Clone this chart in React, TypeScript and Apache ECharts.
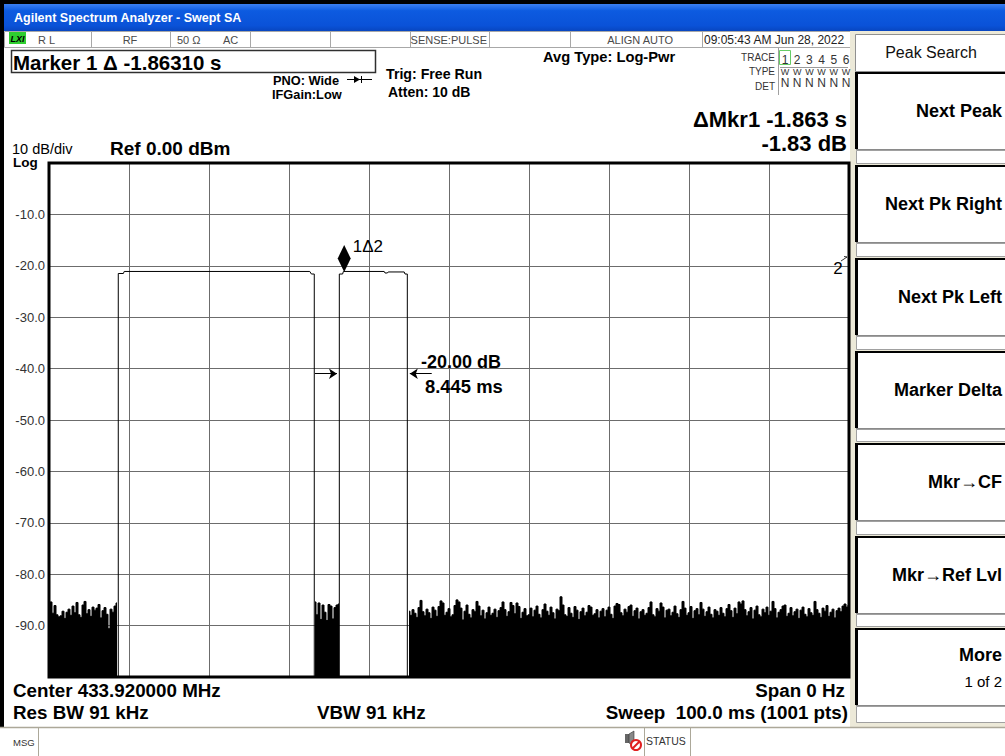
import React, { useEffect, useRef } from "react";
import * as echarts from "echarts";

// ---------- DATA ----------
const sweepMs = 100; // time axis span (ms)
const refLevel = 0; // dBm (top of screen)
const bottomLevel = -100; // dBm (bottom of screen)
const divDb = 10;

const noiseStep = 0.25; // ms between noise samples
const noise1Start = 0;
const noise1 = [
  -86.0, -85.4, -87.6, -86.1, -87.9, -88.3, -88.1, -87.2, -88.6, -87.4,
  -86.8, -88.0, -86.2, -87.5, -85.5, -87.9, -88.4, -86.0, -85.3, -87.7,
  -86.9, -88.2, -86.4, -87.0, -86.6, -85.9, -88.5, -87.1, -86.5, -87.8,
  -90.6, -86.8, -87.4, -86.2, -85.6,
];
const noise2Start = 33.25;
const noise2 = [
  -85.4, -87.9, -85.6, -88.8, -86.0, -87.4, -89.0, -85.9, -86.2, -88.7,
  -86.5, -86.0, -85.8,
];
const noise3Start = 45.0;
const noise3 = [
  -87.2, -88.0, -86.9, -87.6, -88.4, -86.5, -85.1, -87.3, -88.1, -86.8,
  -87.5, -88.6, -86.4, -87.0, -88.2, -86.3, -85.2, -85.6, -88.0, -87.4,
  -86.7, -88.3, -87.9, -86.1, -85.0, -85.4, -86.6, -88.9, -87.2, -86.0,
  -87.8, -88.5, -86.9, -87.3, -85.3, -86.2, -88.1, -87.0, -88.7, -87.5,
  -86.4, -88.0, -87.6, -86.8, -88.4, -87.1, -86.5, -85.4, -86.9, -88.2,
  -87.3, -85.5, -86.1, -87.7, -85.6, -86.3, -88.6, -87.4, -86.7, -88.1,
  -87.9, -86.6, -88.3, -87.0, -86.2, -87.8, -88.5, -86.9, -85.8, -87.2,
  -88.0, -86.4, -87.5, -88.7, -86.8, -87.1, -84.4, -86.0, -87.9, -88.2,
  -86.5, -87.6, -88.4, -86.3, -87.0, -88.8, -87.3, -86.6, -88.1, -87.4,
  -86.1, -86.4, -88.0, -87.7, -86.9, -88.5, -87.2, -86.7, -88.3, -87.0,
  -86.4, -87.8, -88.6, -86.2, -85.7, -85.9, -87.5, -88.1, -86.8, -87.4,
  -86.3, -86.0, -88.2, -87.1, -86.6, -88.7, -87.3, -86.9, -88.0, -87.6,
  -86.5, -85.4, -87.9, -88.3, -86.7, -87.2, -85.6, -86.4, -88.5, -87.0,
  -86.8, -88.1, -87.4, -86.2, -87.7, -88.4, -86.9, -85.3, -86.6, -88.0,
  -87.5, -86.3, -88.6, -87.1, -86.7, -87.9, -85.5, -86.8, -88.2, -87.3,
  -86.4, -87.8, -88.5, -86.9, -87.2, -88.0, -86.5, -87.6, -88.3, -86.7,
  -85.9, -87.1, -88.4, -86.6, -87.7, -85.4, -85.8, -85.2, -86.9, -88.1,
  -87.3, -86.5, -88.7, -87.0, -86.2, -87.9, -88.3, -86.8, -87.5, -86.4,
  -88.0, -87.2, -85.3, -86.7, -88.5, -87.4, -86.9, -86.2, -86.0, -88.2,
  -87.6, -86.5, -88.1, -87.3, -86.8, -88.6, -87.0, -86.4, -87.8, -88.3,
  -86.7, -87.5, -88.0, -85.3, -86.9, -87.6, -88.4, -86.6, -87.2, -86.1,
  -88.2, -87.4, -86.8, -88.5, -87.1, -86.6, -87.3, -86.2, -85.8, -86.4,
  -86.0,
];
// pulse outlines: [time ms, level dBm]
const pulse1 = [
  [8.66, -100], [8.66, -21.5], [9.3, -21.5], [9.4, -21.1], [32.6, -21.1],
  [32.8, -21.6], [33.16, -21.6], [33.16, -100],
];
const pulse2 = [
  [36.29, -100], [36.29, -21.6], [36.7, -21.6], [36.8, -21.1], [41.9, -21.1],
  [42.0, -21.4], [42.3, -21.4], [42.4, -21.2], [44.4, -21.2], [44.5, -21.6],
  [44.79, -21.6], [44.79, -100],
];
const marker1 = [36.9, -21.1];
const markerLabel = "1\u03942";
const bwLevel = -41.0;
const bwLeftArrow = [33.25, 36.0];
const bwRightArrow = [47.84, 45.1];
const bwText = ["-20.00 dB", "8.445 ms"];

const traceNums = ["1", "2", "3", "4", "5", "6"];
const traceTypes = ["W", "W", "W", "W", "W", "W"];
const traceDets = ["N", "N", "N", "N", "N", "N"];

const softkeys = ["Next Peak", "Next Pk Right", "Next Pk Left", "Marker Delta", "Mkr\u2192CF", "Mkr\u2192Ref Lvl"];

// ---------- LAYOUT ----------
const FONT = "'Liberation Sans', Arial, sans-serif";
const GL = 49, GT = 163, GW = 800, GH = 514;

function toSeries(start: number, arr: number[]) {
  return arr.map((v, i) => [start + i * noiseStep, v]);
}

function txt(x: number, y: number, text: string, size: number, opts: any = {}) {
  return {
    type: "text",
    z: 50,
    silent: true,
    style: {
      x, y, text,
      font: `${opts.italic ? "italic " : ""}${opts.bold ? "bold " : ""}${size}px ${opts.family || FONT}`,
      fill: opts.color || "#000",
      textAlign: opts.align || "left",
      textVerticalAlign: "middle",
    },
  };
}
function rect(x: number, y: number, w: number, h: number, fill: any, stroke?: string, lw = 1, z = 10) {
  return {
    type: "rect", z, silent: true,
    shape: { x, y, width: w, height: h },
    style: { fill, stroke: stroke || null, lineWidth: stroke ? lw : 0 },
  };
}
function ln(x1: number, y1: number, x2: number, y2: number, stroke: string, lw = 1, z = 20) {
  return { type: "line", z, silent: true, shape: { x1, y1, x2, y2 }, style: { stroke, lineWidth: lw } };
}

function buildGraphics() {
  const g: any[] = [];
  // frame
  g.push(rect(0, 0, 1005, 5, "#000", undefined, 0, 5));
  g.push(rect(4, 4, 1001, 27, {
    type: "linear", x: 0, y: 0, x2: 0, y2: 1,
    colorStops: [
      { offset: 0, color: "#3b7ff0" }, { offset: 0.25, color: "#0d5be0" },
      { offset: 0.8, color: "#0a52d8" }, { offset: 1, color: "#0846c0" },
    ],
  }, undefined, 0, 5));
  g.push(rect(0, 0, 4, 728, "#000", undefined, 0, 6));
  g.push(txt(14, 18, "Agilent Spectrum Analyzer - Swept SA", 12.5, { bold: true, color: "#fff" }));

  // status row
  g.push(rect(4.5, 31.5, 846, 16, "#fff", "#a8a8a8", 1, 6));
  [91, 170, 250, 330, 410, 489, 570, 702].forEach((x) => g.push(ln(x + 0.5, 31, x + 0.5, 48, "#a8a8a8", 1, 7)));
  g.push(rect(9, 32, 17, 12, "#2fcf2f", undefined, 0, 8));
  g.push(txt(17.5, 38.5, "LXI", 9, { bold: true, italic: true, align: "center" }));
  const sc = "#4a4a4a";
  g.push(txt(38, 40, "R L", 11, { color: sc }));
  g.push(txt(130, 40, "RF", 11, { color: sc, align: "center" }));
  g.push(txt(177, 40, "50 \u03A9", 11, { color: sc }));
  g.push(txt(223, 40, "AC", 11, { color: sc }));
  g.push(txt(487, 40, "SENSE:PULSE", 11, { color: sc, align: "right" }));
  g.push(txt(673, 40, "ALIGN AUTO", 11, { color: sc, align: "right" }));
  g.push(txt(704, 40, "09:05:43 AM Jun 28, 2022", 12, { color: "#222" }));

  // marker box
  g.push(rect(11.5, 50.5, 364, 22, "#fff", "#303030", 1.5, 8));
  g.push(txt(13, 62, "Marker 1 \u0394 -1.86310 s", 20.5, { bold: true }));

  g.push(txt(273, 80, "PNO: Wide", 12.8, { bold: true }));
  g.push(txt(272, 94, "IFGain:Low", 12.8, { bold: true }));
  g.push(ln(347, 79.5, 372, 79.5, "#000", 1));
  g.push({ type: "polygon", z: 21, silent: true, shape: { points: [[354, 76], [354, 83], [360, 79.5]] }, style: { fill: "#000" } });
  g.push(ln(361.5, 76, 361.5, 83, "#000", 1));
  g.push(txt(386, 74, "Trig: Free Run", 14.2, { bold: true }));
  g.push(txt(388, 92, "Atten: 10 dB", 14, { bold: true }));
  g.push(txt(543, 57, "Avg Type: Log-Pwr", 14.7, { bold: true }));

  // trace block
  g.push(ln(778.5, 48, 778.5, 95, "#a0a0a0", 1));
  g.push(rect(779.5, 50.5, 11, 14, "#fff", "#66cc66", 1, 19));
  g.push(txt(775, 57, "TRACE", 10, { color: "#333", align: "right" }));
  g.push(txt(775, 71, "TYPE", 10, { color: "#333", align: "right" }));
  g.push(txt(775, 86, "DET", 10, { color: "#333", align: "right" }));
  traceNums.forEach((s, k) => g.push(txt(785 + 12.2 * k, 59.5, s, 12, { color: "#333", align: "center" })));
  traceTypes.forEach((s, k) => g.push(txt(785 + 12.2 * k, 71.5, s, 9, { color: "#333", align: "center" })));
  g.push(ln(780, 67.5, 848, 67.5, "#555", 0.6));
  traceDets.forEach((s, k) => g.push(txt(785 + 12.2 * k, 83, s, 12, { color: "#333", align: "center" })));

  g.push(txt(847, 119, "\u0394Mkr1 -1.863 s", 22, { bold: true, align: "right" }));
  g.push(txt(847, 143.5, "-1.83 dB", 22, { bold: true, align: "right" }));

  g.push(txt(12, 148.5, "10 dB/div", 14.5));
  g.push(txt(13, 162.5, "Log", 13.5, { bold: true }));
  g.push(txt(110, 148, "Ref 0.00 dBm", 19, { bold: true }));

  // plot border
  g.push({ type: "rect", z: 60, silent: true, shape: { x: GL, y: GT, width: GW, height: GH }, style: { fill: null, stroke: "#000", lineWidth: 3 } });

  // bw annotations
  g.push(txt(421, 362, bwText[0], 18, { bold: true }));
  g.push(txt(425, 386, bwText[1], 18.4, { bold: true }));
  // off-screen marker 2 indicator
  g.push(txt(838, 268, "2", 17, { align: "center" }));
  g.push(ln(841, 261, 847, 257, "#000", 0.8));
  g.push(ln(844, 256.5, 847, 257, "#000", 0.8));

  // bottom annotations
  g.push(txt(13, 690, "Center 433.920000 MHz", 18.8, { bold: true }));
  g.push(txt(13, 712, "Res BW 91 kHz", 18.8, { bold: true }));
  g.push(txt(317, 712, "VBW 91 kHz", 18.8, { bold: true }));
  g.push(txt(845, 690, "Span 0 Hz", 18.8, { bold: true, align: "right" }));
  g.push(txt(848, 712, "Sweep  100.0 ms (1001 pts)", 18.8, { bold: true, align: "right" }));

  // bottom status bar
  g.push(rect(0, 727, 1005, 29, "#fff", undefined, 0, 6));
  g.push(ln(0, 727.5, 1005, 727.5, "#aca899", 1.5, 7));
  g.push(ln(38.5, 728, 38.5, 756, "#aca899", 1, 7));
  g.push(ln(644.5, 728, 644.5, 756, "#aca899", 1, 7));
  g.push(ln(690.5, 728, 690.5, 756, "#aca899", 1, 7));
  g.push(txt(13, 742, "MSG", 9.5, { color: "#333" }));
  g.push(txt(646, 741, "STATUS", 10.5, { color: "#333" }));
  g.push(rect(625, 734, 4, 9, "#666", undefined, 0, 30));
  g.push({ type: "polygon", z: 30, silent: true, shape: { points: [[629, 734], [634, 731], [634, 746], [629, 743]] }, style: { fill: "#888", stroke: "#333", lineWidth: 0.6 } });
  g.push({ type: "circle", z: 31, silent: true, shape: { cx: 636, cy: 745, r: 5 }, style: { fill: "#fff", stroke: "#e02020", lineWidth: 2 } });
  g.push(ln(632.5, 748.5, 639.5, 741.5, "#e02020", 2, 32));

  // softkey panel
  g.push(rect(850, 31, 155, 697, "#ece9d8", undefined, 0, 6));
  g.push(rect(855.5, 34.5, 150, 37, "#fff", "#909090", 1, 7));
  g.push(txt(931, 52, "Peak Search", 16, { align: "center", color: "#111" }));
  const tops = [72, 165, 258, 351, 443, 536, 628];
  tops.forEach((t, i) => {
    g.push(rect(856, t, 150, 77, "#fff", undefined, 0, 7));
    g.push(ln(855, t + 1, 1005, t + 1, "#000", 2, 8));
    g.push(ln(856.5, t, 856.5, t + 77, "#000", 3, 8));
    g.push(ln(856, t + 77.5, 1005, t + 77.5, "#8a8a8a", 1, 8));
    const gb = i < 6 ? tops[i + 1] : 724;
    g.push(rect(856.5, t + 78.5, 150, gb - t - 80, "#fff", "#a0a0a0", 1, 7));
    if (i < 6) g.push(txt(1002, t + 39, softkeys[i], 18, { bold: true, align: "right" }));
  });
  g.push(txt(1002, 655, "More", 18, { bold: true, align: "right" }));
  g.push(txt(1002, 681, "1 of 2", 15, { align: "right" }));
  return g;
}

export default function App() {
  const ref = useRef<HTMLDivElement>(null);
  useEffect(() => {
    if (!ref.current) return;
    const chart = echarts.init(ref.current, undefined, { renderer: "svg" });
    const noiseSeries = (data: number[][]) => ({
      type: "line",
      data,
      step: "middle",
      symbol: "none",
      silent: true,
      lineStyle: { color: "#000", width: 1 },
      areaStyle: { color: "#000", opacity: 1, origin: "start" },
      z: 3,
    });
    const pulseSeries = (data: number[][], extra: any = {}) => ({
      type: "line",
      data,
      symbol: "none",
      silent: true,
      lineStyle: { color: "#000", width: 1 },
      z: 4,
      ...extra,
    });
    chart.setOption({
      animation: false,
      backgroundColor: "#fff",
      grid: { left: GL, top: GT, width: GW, height: GH, containLabel: false },
      xAxis: {
        type: "value", min: 0, max: sweepMs, interval: 10,
        axisLine: { show: false }, axisTick: { show: false }, axisLabel: { show: false },
        splitLine: { show: true, lineStyle: { color: "#6c6c6c", width: 1 } },
      },
      yAxis: {
        type: "value", min: bottomLevel, max: refLevel, interval: divDb,
        axisLine: { show: false }, axisTick: { show: false },
        axisLabel: {
          margin: 4, fontSize: 13, color: "#333", fontFamily: FONT,
          formatter: (v: number) => (v === refLevel || v === bottomLevel ? "" : v.toFixed(1)),
        },
        splitLine: { show: true, lineStyle: { color: "#6c6c6c", width: 1 } },
      },
      series: [
        noiseSeries(toSeries(noise1Start, noise1)),
        noiseSeries(toSeries(noise2Start, noise2)),
        noiseSeries(toSeries(noise3Start, noise3)),
        pulseSeries(pulse1),
        pulseSeries(pulse2, {
          markLine: {
            silent: true,
            symbol: ["none", "arrow"],
            symbolSize: 8,
            label: { show: false },
            lineStyle: { color: "#000", width: 1, type: "solid" },
            data: [
              [{ coord: [bwLeftArrow[0], bwLevel] }, { coord: [bwLeftArrow[1], bwLevel] }],
              [{ coord: [bwRightArrow[0], bwLevel] }, { coord: [bwRightArrow[1], bwLevel] }],
            ],
          },
        }),
        {
          type: "scatter",
          data: [marker1],
          symbol: "diamond",
          symbolSize: [13, 27],
          symbolOffset: [0, -13],
          itemStyle: { color: "#000", opacity: 1 },
          silent: true,
          z: 10,
          label: {
            show: true, position: "right", distance: 2, offset: [0, -12],
            formatter: markerLabel, fontSize: 17, color: "#000", fontFamily: FONT,
          },
        },
      ],
      graphic: buildGraphics(),
    });
    return () => chart.dispose();
  }, []);
  return <div ref={ref} style={{ position: "absolute", left: 0, top: 0, width: 1005, height: 756 }} />;
}
